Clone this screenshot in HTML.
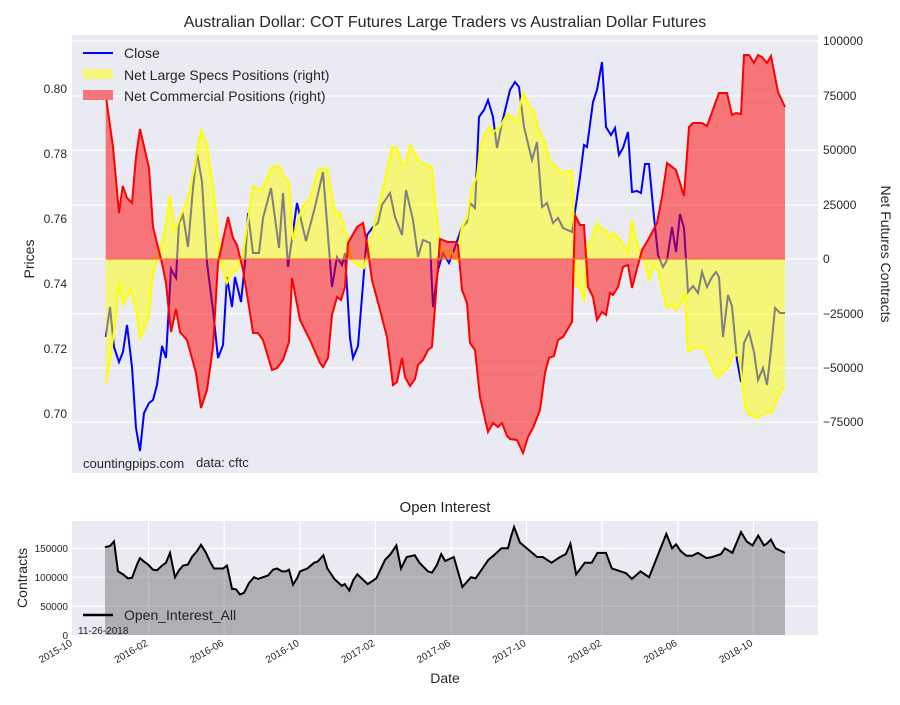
<!DOCTYPE html>
<html><head><meta charset="utf-8"><style>
body{margin:0;background:#fff;}
svg text{font-family:"Liberation Sans",sans-serif;fill:#262626;}
</style></head><body>
<svg width="900" height="700" viewBox="0 0 900 700" xmlns="http://www.w3.org/2000/svg">
<rect width="900" height="700" fill="#fff"/>
<text x="445" y="27" font-size="16" text-anchor="middle">Australian Dollar: COT Futures Large Traders vs Australian Dollar Futures</text>
<rect x="72" y="35" width="746" height="438" fill="#EAEAF2"/>
<g stroke="#fff" stroke-width="1.2">
<line x1="72" x2="818" y1="41" y2="41"/><line x1="72" x2="818" y1="96" y2="96"/><line x1="72" x2="818" y1="150" y2="150"/><line x1="72" x2="818" y1="205" y2="205"/><line x1="72" x2="818" y1="259" y2="259"/><line x1="72" x2="818" y1="314" y2="314"/><line x1="72" x2="818" y1="368" y2="368"/><line x1="72" x2="818" y1="422" y2="422"/>
</g>
<polyline fill="none" stroke="#0000ff" stroke-width="2" points="105.7,337 110,307 114,347 119,362 123,352 127,325 132,367 136,428 140,451 144,413 149,403 153,400 157,385 162,346 166,358 171,269 176,278 179,223 183,215 188,247 193,188 197,153 202,182 207,263 213,310 218,358 223,345 227,277 232,307 235,277 241,302 245,263 248,213 253,253 259,253 263,218 271,188 279,248 283,193 288,267 297,203 306,241 315,207 323,172 332,287 337,257 342,265 345,253 350,338 353,358 358,346 367,235 373,227 378,223 382,205 390,193 395,217 402,235 406,190 413,220 418,257 423,240 430,243 433,307 438,270 443,253 449,263 454,250 462,227 467,222 470,203 475,208 479,117 484,110 488,100 493,117 497,148 502,123 510,90 515,82 519,87 524,127 532,160 537,142 542,207 547,203 553,223 558,218 563,228 572,232 577,198 580,177 584,145 587,147 593,102 597,90 602,62 606,127 611,135 615,128 619,155 623,148 628,132 632,192 637,191 641,193 645,164 649,164 654,217 658,255 663,267 667,260 672,227 676,252 680,214 684,228 688,292 693,286 698,293 702,272 707,287 712,277 716,272 719,277 723,337 728,295 732,306 737,360 741,382 744,343 749,332 754,352 758,380 763,368 767,385 771,350 775,308 780,313 785,313"/>
<g id="yel">
<polygon fill="#ffff00" fill-opacity="0.5" points="105.7,259 105.7,383 110,360 116,317 119,282 123,305 127,297 131,289 136,310 140,338 144,330 149,315 153,273 162,243 166,223 170,195 175,232 180,217 188,198 195,165 201,130 207,145 215,203 220,260 227,283 232,273 237,270 242,260 247,227 253,186 257,189 262,190 267,178 272,167 277,166 280,167 284,177 289,182 293,240 302,207 310,198 318,170 327,168 335,212 340,213 347,237 352,260 357,265 364,268 370,243 378,210 385,180 392,147 397,148 402,165 406,163 410,145 420,162 427,165 432,167 435,203 440,243 443,250 447,252 451,250 456,260 462,227 467,218 472,187 477,177 480,147 484,136 489,127 493,132 500,127 507,114 512,117 517,121 523,92 530,107 533,110 538,127 545,143 550,162 555,165 560,173 567,171 572,171 576,286 581,288 584,302 587,248 592,238 597,223 602,230 606,230 610,238 614,233 618,237 622,243 628,252 632,220 637,243 645,263 649,281 653,266 658,270 662,290 667,308 672,305 676,310 681,304 685,293 688,352 693,348 698,347 703,348 708,357 713,370 718,378 723,372 728,368 732,356 739,355 745,407 750,415 758,418 765,413 772,412 778,397 782,388 785,388 785,259"/>
<polyline fill="none" stroke="#ffff00" stroke-width="2" points="105.7,383 110,360 116,317 119,282 123,305 127,297 131,289 136,310 140,338 144,330 149,315 153,273 162,243 166,223 170,195 175,232 180,217 188,198 195,165 201,130 207,145 215,203 220,260 227,283 232,273 237,270 242,260 247,227 253,186 257,189 262,190 267,178 272,167 277,166 280,167 284,177 289,182 293,240 302,207 310,198 318,170 327,168 335,212 340,213 347,237 352,260 357,265 364,268 370,243 378,210 385,180 392,147 397,148 402,165 406,163 410,145 420,162 427,165 432,167 435,203 440,243 443,250 447,252 451,250 456,260 462,227 467,218 472,187 477,177 480,147 484,136 489,127 493,132 500,127 507,114 512,117 517,121 523,92 530,107 533,110 538,127 545,143 550,162 555,165 560,173 567,171 572,171 576,286 581,288 584,302 587,248 592,238 597,223 602,230 606,230 610,238 614,233 618,237 622,243 628,252 632,220 637,243 645,263 649,281 653,266 658,270 662,290 667,308 672,305 676,310 681,304 685,293 688,352 693,348 698,347 703,348 708,357 713,370 718,378 723,372 728,368 732,356 739,355 745,407 750,415 758,418 765,413 772,412 778,397 782,388 785,388"/>
</g>
<polygon fill="#ff0000" fill-opacity="0.5" points="105.7,259 105.7,95 113,147 119,213 122.7,186 127,198 132,203 136,157 140,129 149,168 153,227 162,263 166,283 171,332 176,309 180,332 187,340 196,373 201,408 207,390 213,347 218,263 228,217 233,238 237,245 243,270 250,313 253,333 258,333 263,340 272,370 277,368 283,360 289,342 292,278 300,320 310,340 320,363 323,367 328,358 332,315 337,297 341,300 345,287 348,243 357,227 363,223 367,243 372,280 380,310 387,337 393,385 397,382 402,358 405,377 410,386 415,379 418,365 423,360 428,350 432,347 440,239 448,242 455,242 458,245 462,290 467,303 470,343 475,350 480,397 488,432 493,423 498,427 502,423 507,436 510,439 517,440 523,453 528,437 533,428 540,410 545,373 549,358 554,356 558,340 563,337 572,322 575,215 580,225 584,225 588,287 593,297 597,320 602,312 606,315 610,293 613,295 618,287 623,267 628,265 632,288 642,250 648,240 657,223 662,197 667,163 676,170 684,196 689,127 693,123 702,123 707,126 719,93 727,93 732,115 736,113 741,114 744,55 749,55 754,63 758,55 762,57 767,63 771,56 778,92 785,107 785,259"/>
<polyline fill="none" stroke="#ff0000" stroke-width="2" points="105.7,95 113,147 119,213 122.7,186 127,198 132,203 136,157 140,129 149,168 153,227 162,263 166,283 171,332 176,309 180,332 187,340 196,373 201,408 207,390 213,347 218,263 228,217 233,238 237,245 243,270 250,313 253,333 258,333 263,340 272,370 277,368 283,360 289,342 292,278 300,320 310,340 320,363 323,367 328,358 332,315 337,297 341,300 345,287 348,243 357,227 363,223 367,243 372,280 380,310 387,337 393,385 397,382 402,358 405,377 410,386 415,379 418,365 423,360 428,350 432,347 440,239 448,242 455,242 458,245 462,290 467,303 470,343 475,350 480,397 488,432 493,423 498,427 502,423 507,436 510,439 517,440 523,453 528,437 533,428 540,410 545,373 549,358 554,356 558,340 563,337 572,322 575,215 580,225 584,225 588,287 593,297 597,320 602,312 606,315 610,293 613,295 618,287 623,267 628,265 632,288 642,250 648,240 657,223 662,197 667,163 676,170 684,196 689,127 693,123 702,123 707,126 719,93 727,93 732,115 736,113 741,114 744,55 749,55 754,63 758,55 762,57 767,63 771,56 778,92 785,107"/>
<line x1="105.7" x2="785" y1="259" y2="259" stroke="#ff6a3a" stroke-width="1.5" opacity="0.8"/>
<!-- legend -->
<line x1="83" x2="113" y1="53" y2="53" stroke="#0000ff" stroke-width="2"/>
<text x="124" y="58" font-size="14">Close</text>
<rect x="83" y="69" width="30" height="10" fill="#f5f57a"/>
<text x="124" y="80" font-size="14">Net Large Specs Positions (right)</text>
<rect x="83" y="90" width="30" height="10" fill="#f57579"/>
<text x="124" y="101" font-size="14">Net Commercial Positions (right)</text>
<text x="83" y="468" font-size="13" fill="#000">countingpips.com</text>
<text x="196" y="467" font-size="13" fill="#000">data: cftc</text>
<!-- left ticks -->
<g font-size="12" text-anchor="end">
<text x="67" y="93">0.80</text><text x="67" y="158">0.78</text><text x="67" y="223">0.76</text><text x="67" y="288">0.74</text><text x="67" y="353">0.72</text><text x="67" y="418">0.70</text>
</g>
<text transform="translate(34,259) rotate(-90)" font-size="14" text-anchor="middle">Prices</text>
<g font-size="12">
<text x="823" y="45">100000</text><text x="823" y="100">75000</text><text x="823" y="154">50000</text><text x="823" y="209">25000</text><text x="823" y="263">0</text><text x="823" y="318">−25000</text><text x="823" y="372">−50000</text><text x="823" y="426">−75000</text>
</g>
<text transform="translate(881,254) rotate(90)" font-size="14" text-anchor="middle">Net Futures Contracts</text>
<!-- bottom chart -->
<text x="445" y="512" font-size="15" text-anchor="middle">Open Interest</text>
<rect x="72" y="521" width="746" height="114" fill="#EAEAF2"/>
<g stroke="#fff" stroke-width="1.2">
<line x1="72" x2="818" y1="548.3" y2="548.3"/><line x1="72" x2="818" y1="577.2" y2="577.2"/><line x1="72" x2="818" y1="606.1" y2="606.1"/>
<line x1="148.6" x2="148.6" y1="521" y2="635"/><line x1="224.2" x2="224.2" y1="521" y2="635"/><line x1="299.8" x2="299.8" y1="521" y2="635"/><line x1="375.4" x2="375.4" y1="521" y2="635"/><line x1="451" x2="451" y1="521" y2="635"/><line x1="526.6" x2="526.6" y1="521" y2="635"/><line x1="602.2" x2="602.2" y1="521" y2="635"/><line x1="677.8" x2="677.8" y1="521" y2="635"/><line x1="753.4" x2="753.4" y1="521" y2="635"/>
</g>
<polygon fill="#000" fill-opacity="0.25" points="105,635 105,547.1 110,546 114,541.4 118,571.4 123,574.3 128,578.4 132,577.8 137,564.5 140,558.1 144,561.6 148,564.5 153,569.7 157,570.3 162,565.6 166,562.7 170,552.9 175,577.2 179,570.3 183,565.6 188,564.5 192,557 197,551.2 201,544.8 206,552.9 210,561.6 214,568.5 218,568.5 223,568.5 227,565.6 232,588.8 236,589.3 240,594.5 244,592.8 249,583 254,577.2 258,578.9 263,577.2 268,575.5 273,569.7 277,568.5 282,571.4 286,571.4 289,569.7 293,584.7 297,578.4 300,571.4 307.3,568.5 314.2,562.7 317.7,561.6 323.4,555.2 327.4,568.5 334.3,578.9 341.8,585.9 344.7,584.1 349.3,590.5 353.3,580.1 357.3,574.3 367.7,584.1 376.3,578.4 385,559.9 390.6,554.1 396.4,545.4 401,568.5 406.7,557 414.8,555.2 419.4,562.7 428,571.4 432,572.6 436.6,565.6 441.2,554.1 445.2,561 453.8,557 462.4,587 471,577.2 475.6,578.4 488.3,559.9 494,555.2 501.5,548.3 508,548.3 511,536.7 514.1,526.9 519.9,542.5 537.1,557 542.8,557 551.5,562.7 560.1,557 565.8,554.1 570.4,543.7 576.2,574.3 584.8,562.7 591.7,562.7 597.4,552.9 606,552.9 611.8,568.5 617.5,570.3 626.1,573.2 631.9,578.9 640.5,571.4 649.1,577.2 660.6,548.3 666.3,533.9 672.1,548.3 676.1,544.3 680.7,551.2 686.5,555.8 692.2,555.8 697.9,552.9 706.5,558.1 712.3,557 720.9,554.1 724.9,548.3 732.4,552.9 741,532.1 746.7,541.4 752.5,545.4 758.2,535.6 764,545.4 766.8,543.7 770.9,539.6 775.5,548.3 785,552.9 785,635"/>
<polyline fill="none" stroke="#000" stroke-width="2" points="105,547.1 110,546 114,541.4 118,571.4 123,574.3 128,578.4 132,577.8 137,564.5 140,558.1 144,561.6 148,564.5 153,569.7 157,570.3 162,565.6 166,562.7 170,552.9 175,577.2 179,570.3 183,565.6 188,564.5 192,557 197,551.2 201,544.8 206,552.9 210,561.6 214,568.5 218,568.5 223,568.5 227,565.6 232,588.8 236,589.3 240,594.5 244,592.8 249,583 254,577.2 258,578.9 263,577.2 268,575.5 273,569.7 277,568.5 282,571.4 286,571.4 289,569.7 293,584.7 297,578.4 300,571.4 307.3,568.5 314.2,562.7 317.7,561.6 323.4,555.2 327.4,568.5 334.3,578.9 341.8,585.9 344.7,584.1 349.3,590.5 353.3,580.1 357.3,574.3 367.7,584.1 376.3,578.4 385,559.9 390.6,554.1 396.4,545.4 401,568.5 406.7,557 414.8,555.2 419.4,562.7 428,571.4 432,572.6 436.6,565.6 441.2,554.1 445.2,561 453.8,557 462.4,587 471,577.2 475.6,578.4 488.3,559.9 494,555.2 501.5,548.3 508,548.3 511,536.7 514.1,526.9 519.9,542.5 537.1,557 542.8,557 551.5,562.7 560.1,557 565.8,554.1 570.4,543.7 576.2,574.3 584.8,562.7 591.7,562.7 597.4,552.9 606,552.9 611.8,568.5 617.5,570.3 626.1,573.2 631.9,578.9 640.5,571.4 649.1,577.2 660.6,548.3 666.3,533.9 672.1,548.3 676.1,544.3 680.7,551.2 686.5,555.8 692.2,555.8 697.9,552.9 706.5,558.1 712.3,557 720.9,554.1 724.9,548.3 732.4,552.9 741,532.1 746.7,541.4 752.5,545.4 758.2,535.6 764,545.4 766.8,543.7 770.9,539.6 775.5,548.3 785,552.9"/>
<line x1="83" x2="113" y1="615" y2="615" stroke="#000" stroke-width="2.5"/>
<text x="124" y="620" font-size="14">Open_Interest_All</text>
<text x="78" y="634" font-size="10" fill="#000">11-26-2018</text>
<g font-size="10" text-anchor="end">
<text x="68" y="552">150000</text><text x="68" y="581">100000</text><text x="68" y="610">50000</text><text x="68" y="639">0</text>
</g>
<text transform="translate(27,578) rotate(-90)" font-size="14" text-anchor="middle">Contracts</text>
<g font-size="10" text-anchor="end">
<text transform="translate(73,645) rotate(-30)">2015-10</text>
<text transform="translate(148.6,645) rotate(-30)">2016-02</text>
<text transform="translate(224.2,645) rotate(-30)">2016-06</text>
<text transform="translate(299.8,645) rotate(-30)">2016-10</text>
<text transform="translate(375.4,645) rotate(-30)">2017-02</text>
<text transform="translate(451,645) rotate(-30)">2017-06</text>
<text transform="translate(526.6,645) rotate(-30)">2017-10</text>
<text transform="translate(602.2,645) rotate(-30)">2018-02</text>
<text transform="translate(677.8,645) rotate(-30)">2018-06</text>
<text transform="translate(753.4,645) rotate(-30)">2018-10</text>
</g>
<text x="445" y="683" font-size="14" text-anchor="middle">Date</text>
</svg>
</body></html>
